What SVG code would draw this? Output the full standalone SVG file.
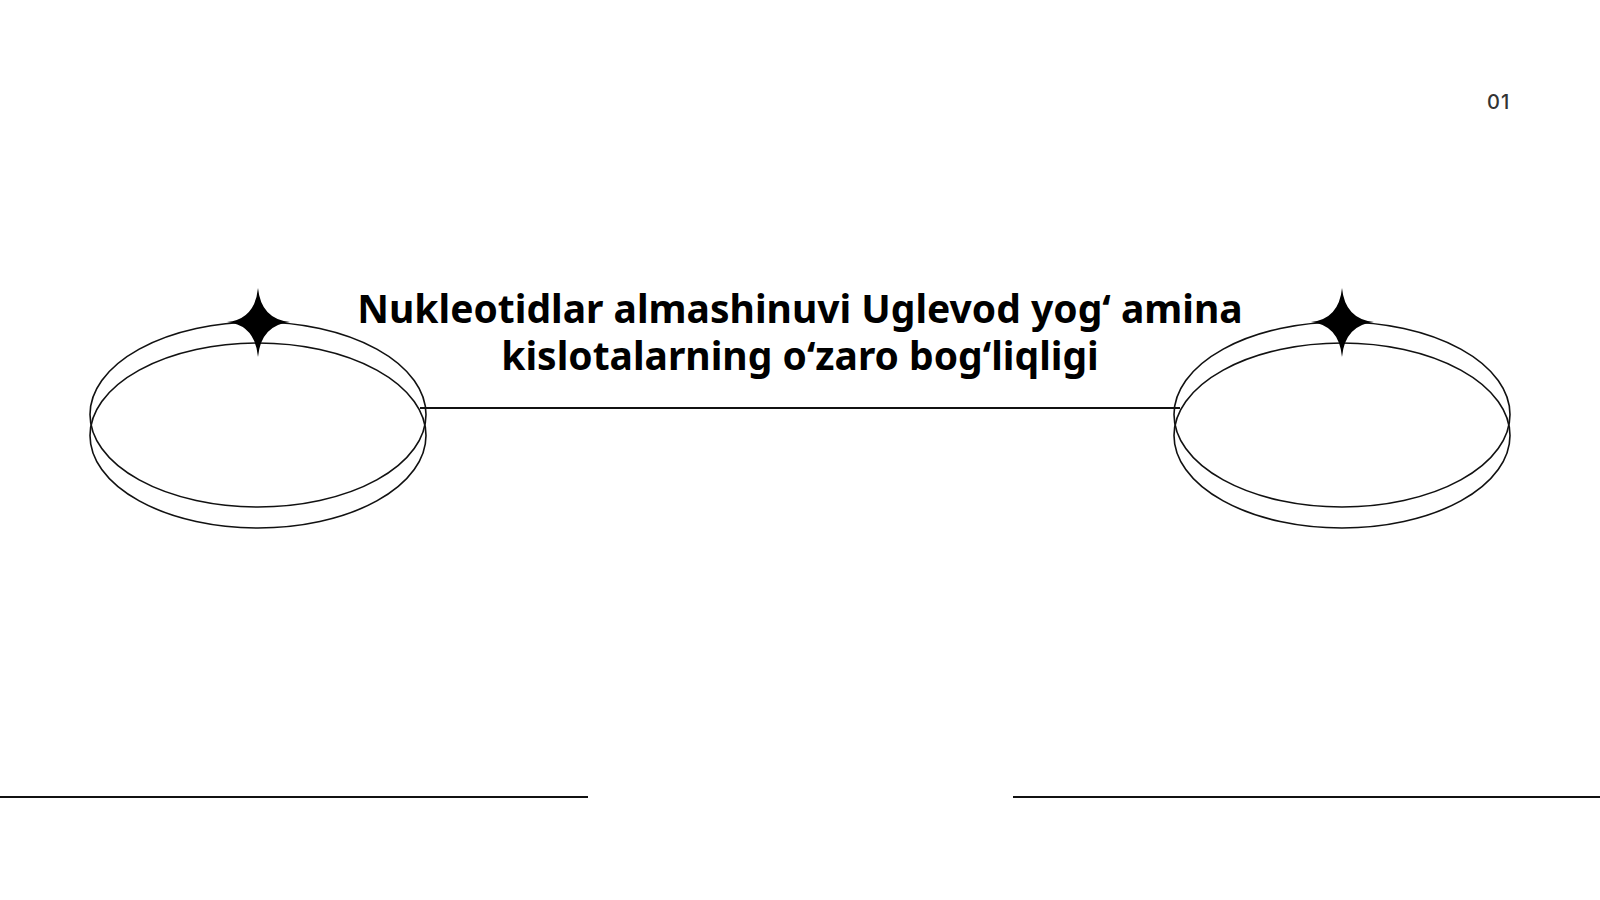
<svg xmlns="http://www.w3.org/2000/svg" width="1600" height="900" viewBox="0 0 1600 900">
  <style>
    .ring { fill: none; stroke: #111; stroke-width: 1.6; }
    .rule { stroke: #111; stroke-width: 2; }
    .title { font-family: "Noto Sans", "Open Sans", "Liberation Sans", sans-serif; font-weight: 700; font-size: 39px; fill: #000; text-anchor: middle; }
    .num { font-family: Inter, "Noto Sans", "Liberation Sans", sans-serif; font-size: 20px; font-weight: 500; fill: #333; letter-spacing: 1px; }
  </style>
  <defs>
    <path id="star" d="M 0 -34 Q 3 -3 32 0 Q 3 3 0 35 Q -3 3 -31 0 Q -3 -3 0 -34 Z" fill="#000"/>
  </defs>
  <rect width="1600" height="900" fill="#fff"/>

  <g id="connectors">
    <line class="rule" x1="420" y1="408" x2="1180" y2="408"/>
    <line class="rule" x1="0" y1="797" x2="588" y2="797"/>
    <line class="rule" x1="1013" y1="797" x2="1600" y2="797"/>
  </g>

  <g id="node-left">
    <ellipse class="ring" cx="258" cy="414.5" rx="168" ry="92.5"/>
    <ellipse class="ring" cx="258" cy="435.5" rx="168" ry="92.5"/>
    <use href="#star" x="258" y="322"/>
  </g>

  <g id="node-right">
    <ellipse class="ring" cx="1342" cy="414.5" rx="168" ry="92.5"/>
    <ellipse class="ring" cx="1342" cy="435.5" rx="168" ry="92.5"/>
    <use href="#star" x="1342" y="322"/>
  </g>

  <g id="title">
    <text class="title" x="800" y="323">Nukleotidlar almashinuvi Uglevod yog‘ amina<tspan x="800" y="370">kislotalarning o‘zaro bog‘liqligi</tspan></text>
  </g>

  <g id="page-number">
    <text class="num" x="1487" y="109">01</text>
  </g>
</svg>
